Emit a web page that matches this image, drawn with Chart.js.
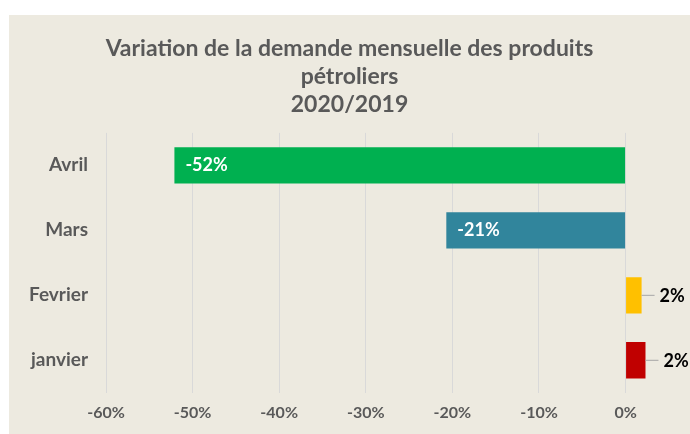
<!DOCTYPE html>
<html>
<head>
<meta charset="utf-8">
<script src="https://cdn.jsdelivr.net/npm/chart.js@4.4.1/dist/chart.umd.min.js"></script>
<style>
  html, body { margin: 0; padding: 0; background: #fff; overflow: hidden; }
  #cadre { position: absolute; left: 9px; top: 15px; width: 698px; height: 419px; background: #EDEAE0; }
</style>
</head>
<body>
<div id="cadre"><canvas id="grafico"></canvas></div>
<script>
const mois = ['Avril', 'Mars', 'Fevrier', 'janvier'];
const valeurs = [-0.521, -0.207, 0.0185, 0.023];
const couleurs = ['#00B050', '#31859C', '#FFC000', '#C00000'];
const graduations = [-0.6, -0.5, -0.4, -0.3, -0.2, -0.1, 0];
const titre = ['Variation de la demande mensuelle des produits', 'pétroliers', '2020/2019'];

const pourcent = v => Math.round(v * 100) + '%';

// étiquettes de données
const etiquettes = {
    id: 'etiquettes',
    afterDatasetsDraw(chart) {
        const ctx = chart.ctx;
        const meta = chart.getDatasetMeta(0);
        ctx.save();
        ctx.font = 'bold 18px Lato';
        ctx.textBaseline = 'middle';
        meta.data.forEach((bar, i) => {
            const v = valeurs[i];
            const txt = pourcent(v);
            if (v < 0) {
                ctx.fillStyle = '#ffffff';
                ctx.textAlign = 'left';
                ctx.fillText(txt, bar.x + 11, bar.y);
            } else {
                ctx.strokeStyle = '#A6A6A6';
                ctx.lineWidth = 1;
                ctx.beginPath();
                ctx.moveTo(bar.x, bar.y);
                ctx.lineTo(bar.x + 13, bar.y);
                ctx.stroke();
                ctx.fillStyle = '#000000';
                ctx.textAlign = 'left';
                ctx.fillText(txt, bar.x + 18, bar.y + 1);
            }
        });
        ctx.restore();
    }
};

new Chart(document.getElementById('grafico').getContext('2d'), {
    type: 'bar',
    plugins: [etiquettes],
    data: {
        labels: mois,
        datasets: [{
            data: valeurs,
            backgroundColor: couleurs,
            categoryPercentage: 1.0,
            barPercentage: 0.56
        }]
    },
    options: {
        indexAxis: 'y',
        responsive: true,
        maintainAspectRatio: false,
        animation: false,
        layout: { padding: { left: 0, right: 17, top: 0, bottom: 2 } },
        plugins: {
            legend: { display: false },
            tooltip: { enabled: false },
            title: {
                display: true,
                text: titre,
                color: '#595959',
                font: { family: 'Lato', weight: 'bold', size: 23, lineHeight: 1.23 },
                padding: { top: 19, bottom: 14 }
            }
        },
        scales: {
            x: {
                min: -0.6,
                max: 0.0744,
                afterBuildTicks: axe => { axe.ticks = graduations.map(v => ({ value: v })); },
                ticks: {
                    padding: 10,
                    color: '#595959',
                    font: { family: 'Lato', weight: 'bold', size: 16 },
                    callback: v => pourcent(v)
                },
                grid: { color: '#D9D9D9', drawTicks: false },
                border: { display: false }
            },
            y: {
                afterFit: axe => { axe.width = 97; },
                ticks: {
                    padding: 18,
                    color: '#595959',
                    font: { family: 'Lato', weight: 'bold', size: 19 }
                },
                grid: { display: false, drawTicks: false },
                border: { display: false }
            }
        }
    }
});
</script>
</body>
</html>
